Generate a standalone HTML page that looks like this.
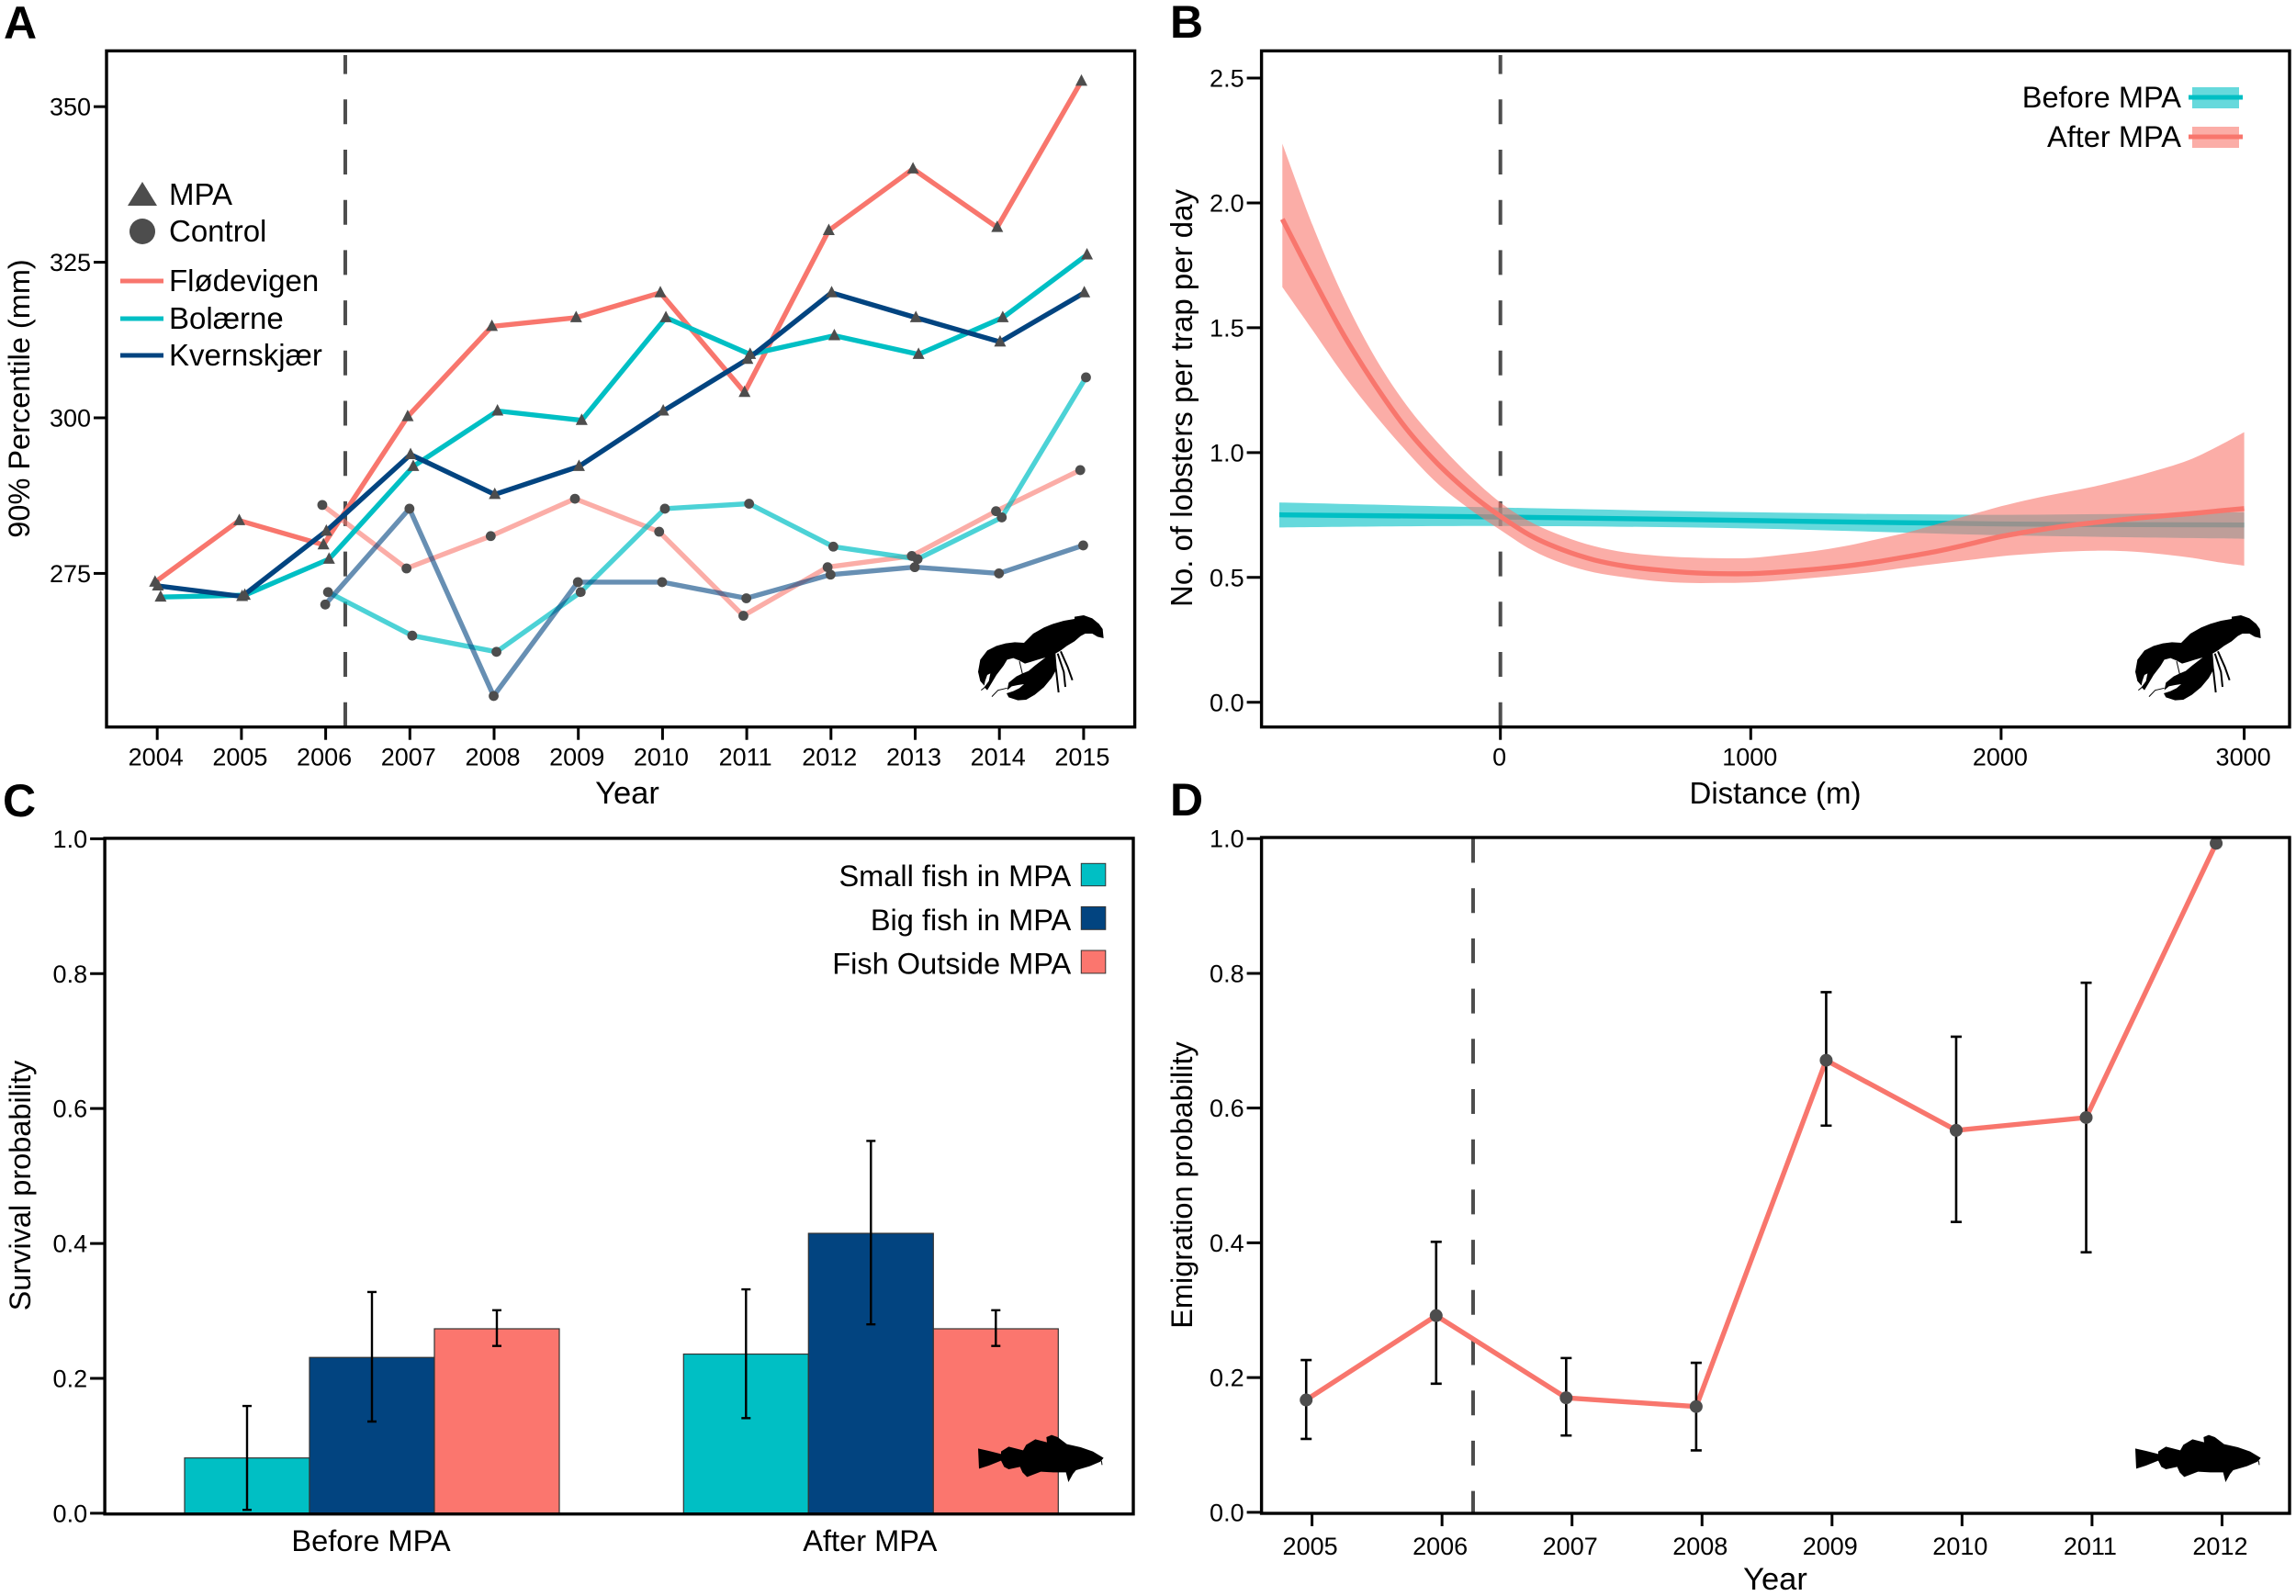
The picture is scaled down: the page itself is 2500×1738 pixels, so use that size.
<!DOCTYPE html>
<html lang="en">
<head>
<meta charset="utf-8">
<title>MPA lobster and fish panels</title>
<style>
html,body{margin:0;padding:0;background:#fff;}
svg{display:block;font-family:"Liberation Sans",Arial,sans-serif;fill:#000;}
.tick{font-size:27px;}
.title{font-size:32.5px;}
.leg{font-size:32.6px;}
.panel{font-size:50px;font-weight:bold;}
</style>
</head>
<body>
<svg id="fig" xmlns="http://www.w3.org/2000/svg" width="2500" height="1738" viewBox="0 0 2500 1738">
<defs>
<g id="lobster-shape">
<path fill="#000" d="M420 95L450 90L478 100L500 118L512 135L515 165L495 160L478 150L455 150L440 158L420 175L395 190L375 205L358 215L362 265L345 295L320 325L290 350L262 366L235 368L205 358L198 345L220 338L240 328L255 315L235 318L215 322L200 335L205 310L230 290L250 280L270 272L290 255L325 228L300 235L275 243L258 248L240 238L220 230L200 235L188 255L165 285L150 310L135 335L125 325L140 305L145 280L135 285L128 305L125 320L112 305L105 275L112 235L135 205L165 190L195 182L225 178L255 180L285 150L320 130L350 118L385 108L420 102Z"/>
<path fill="none" stroke="#000" stroke-width="6" d="M350 218L360 270L368 342M365 215L385 275L390 324M375 208L398 260L413 302"/>
<path fill="none" stroke="#000" stroke-width="3" d="M115 335L140 315M150 356L170 335L200 328M240 240L250 282"/>
</g>
<g id="fish-shape">
<path fill="#000" d="M75 112L110 120L150 130L150 122L175 106L222 118L232 100L262 82L300 92L298 75L315 68L335 75L365 98L410 108L450 122L485 143L475 155L440 170L395 183L385 195L370 222L362 190L320 190L280 188L235 205L220 190L212 172L175 180L160 172L150 152L110 168L78 178Z"/>
<path fill="none" stroke="#000" stroke-width="3" d="M478 152L480 166"/>
</g>
</defs>

<g id="panelA"></g>
<g id="panelB"></g>
<g id="panelC"></g>
<g id="panelD"></g>

<text class="panel" x="4" y="42">A</text>
<text class="panel" x="1274" y="41">B</text>
<text class="panel" x="3" y="889">C</text>
<text class="panel" x="1274" y="888">D</text>

<text class="title" style="font-size:34.5px" x="683" y="875" text-anchor="middle">Year</text>
<text class="title" transform="rotate(-90 32 434)" x="32" y="434" text-anchor="middle">90% Percentile (mm)</text>
<text class="title" style="font-size:33px" x="1933" y="875" text-anchor="middle">Distance (m)</text>
<text class="title" style="font-size:33px" transform="rotate(-90 1298 433.5)" x="1298" y="433.5" text-anchor="middle">No. of lobsters per trap per day</text>
<text class="title" transform="rotate(-90 33 1291)" x="33" y="1291" text-anchor="middle">Survival probability</text>
<text class="title" style="font-size:34.5px" x="1933" y="1731" text-anchor="middle">Year</text>
<text class="title" transform="rotate(-90 1298 1290.5)" x="1298" y="1290.5" text-anchor="middle">Emigration probability</text>

<g>
<polygon points="155,198 139,224 171,224" fill="#4d4d4d"/>
<text x="184" y="223" style="font-size:33px">MPA</text>
<circle cx="155" cy="252" r="14" fill="#4d4d4d"/>
<text x="184" y="263" style="font-size:33px">Control</text>
<line x1="131" x2="178" y1="306" y2="306" stroke="#F8766D" stroke-width="5"/>
<text x="184" y="317" style="font-size:33px">Flødevigen</text>
<line x1="131" x2="178" y1="347" y2="347" stroke="#00BFC4" stroke-width="5"/>
<text x="184" y="358" style="font-size:33px">Bolærne</text>
<line x1="131" x2="178" y1="387" y2="387" stroke="#024480" stroke-width="5"/>
<text x="184" y="398" style="font-size:33px">Kvernskjær</text>
</g>

<g>
<text class="leg" x="2375" y="117" text-anchor="end">Before MPA</text>
<rect x="2387" y="95" width="51" height="23" fill="#00BFC4" fill-opacity="0.6"/>
<line x1="2383" x2="2442" y1="106" y2="106" stroke="#00BFC4" stroke-width="5"/>
<text class="leg" x="2375" y="160" text-anchor="end">After MPA</text>
<rect x="2387" y="138" width="51" height="23" fill="#F8766D" fill-opacity="0.6"/>
<line x1="2383" x2="2442" y1="149" y2="149" stroke="#F8766D" stroke-width="5"/>
</g>

<g>
<text class="leg" x="1166.3" y="965.2" text-anchor="end">Small fish in MPA</text>
<rect x="1177.3" y="940.3" width="26.5" height="24.4" fill="#00BFC4" stroke="#333" stroke-width="1"/>
<text class="leg" x="1166.3" y="1012.9" text-anchor="end">Big fish in MPA</text>
<rect x="1177.3" y="987.4" width="26.5" height="24.9" fill="#024480" stroke="#333" stroke-width="1"/>
<text class="leg" x="1166.3" y="1060.5" text-anchor="end">Fish Outside MPA</text>
<rect x="1177.3" y="1035" width="26.5" height="24.9" fill="#FB766E" stroke="#333" stroke-width="1"/>
</g>

<use href="#lobster-shape" transform="translate(1030 640) scale(0.3333)"/>
<use href="#lobster-shape" transform="translate(2290 640) scale(0.3333)"/>
<use href="#fish-shape" transform="translate(1040 1540) scale(0.3333)"/>
<use href="#fish-shape" transform="translate(2300 1540) scale(0.3333)"/>
</svg>

<script>
/* ---------- Panel A data ---------- */
const aYears = [2004,2005,2006,2007,2008,2009,2010,2011,2012,2013,2014,2015];
const aControlYears = [2006,2007,2008,2009,2010,2011,2012,2013,2014,2015];
const aYTicks = [275,300,325,350];
const floMpa = [273.6,283.5,279.6,300.2,314.7,316.1,320.1,304.1,330.1,340,330.6,354.1];
const bolMpa = [271.2,271.5,277.3,292.2,301.1,299.6,316.1,310.2,313.2,310.2,316.1,326.2];
const kveMpa = [273,271.3,281.8,294.1,287.7,292.2,301.1,309.4,320.1,316.1,312.2,320.1];
const floControl = [286,275.8,281,287,281.7,268.2,276,277.8,285,291.6];
const bolControl = [272,265,262.4,272,285.4,286.2,279.3,277.3,284,306.5];
const kveControl = [270,285.4,255.3,273.6,273.6,271,274.8,276,275,279.5];
const aMpaStartYear = 2006.233;

/* ---------- Panel B data ---------- */
const bXTicks = [0,1000,2000,2971];
const bXTickLabels = ['0','1000','2000','3000'];
const bYTicks = [0,0.5,1,1.5,2,2.5];
const afterDistance = [-871,-750,-625,-500,-375,-250,-125,0,125,250,375,500,625,750,875,1000,1125,1250,1375,1500,1625,1750,1875,2000,2125,2250,2375,2500,2625,2750,2875,2971];
const afterFit = [1.935,1.70,1.47,1.27,1.095,0.955,0.84,0.745,0.665,0.61,0.57,0.545,0.53,0.52,0.515,0.515,0.522,0.532,0.545,0.562,0.583,0.606,0.634,0.664,0.686,0.705,0.72,0.733,0.745,0.755,0.767,0.776];
const afterUpper = [2.237,1.91,1.62,1.38,1.19,1.04,0.91,0.80,0.72,0.665,0.625,0.60,0.587,0.58,0.577,0.578,0.59,0.605,0.625,0.652,0.68,0.715,0.75,0.785,0.815,0.84,0.865,0.895,0.93,0.97,1.03,1.082];
const afterLower = [1.663,1.49,1.31,1.15,1.005,0.875,0.775,0.69,0.61,0.555,0.52,0.50,0.485,0.478,0.478,0.48,0.488,0.498,0.51,0.523,0.54,0.555,0.57,0.585,0.595,0.603,0.607,0.605,0.595,0.58,0.56,0.547];
const beforeDistance = [-883,0,1000,2000,2971];
const beforeFit = [0.751,0.742,0.728,0.714,0.71];
const beforeUpper = [0.8,0.78,0.761,0.751,0.761];
const beforeLower = [0.7,0.706,0.696,0.669,0.655];

/* ---------- Panel C data ---------- */
const cGroups = ['Before MPA','After MPA'];
const cSeries = ['small-fish','big-fish','outside-fish'];
const cTicks = [0,0.2,0.4,0.6,0.8,1];
const cBefore = [0.082,0.231,0.2735];
const cAfter = [0.236,0.415,0.2735];
const cBeforeHigh = [0.159,0.328,0.301];
const cBeforeLow = [0.005,0.136,0.248];
const cAfterHigh = [0.332,0.552,0.301];
const cAfterLow = [0.141,0.28,0.248];

/* ---------- Panel D data ---------- */
const dYears = [2005,2006,2007,2008,2009,2010,2011,2012];
const dTicks = [0,0.2,0.4,0.6,0.8,1];
const dValues = [0.1668,0.292,0.17,0.157,0.671,0.567,0.586,0.993];
const dHigh = [0.226,0.4015,0.229,0.222,0.772,0.706,0.786];
const dLow = [0.109,0.191,0.114,0.092,0.574,0.431,0.386];
const dMpaStartYear = 2006.239;

/* ---------- axis functions ---------- */
const xA = y => 171.2 + (y - 2004) * 91.7;
const yA = v => 455 - (v - 300) * 6.777;
const xB = m => 1633.7 + m * 0.2726;
const yB = v => 764.75 - v * 271.9;
const xC = (g, i) => 405 + g * 543.3 + (i - 1.5) * 136;
const yC = v => 1647.9 - v * 734.55;
const xD = y => 1428.6 + (y - 2005) * 141.55;
const yD = v => 1646.9 - v * 733.7;

const NS = 'http://www.w3.org/2000/svg';
const COL = {flo:'#F8766D', bol:'#00BFC4', kve:'#024480', bar3:'#FB766E', mark:'#4d4d4d', dash:'#4d4d4d'};

function mk(tag, attrs, parent, text) {
  const n = document.createElementNS(NS, tag);
  for (const k in attrs) n.setAttribute(k, attrs[k]);
  if (text !== undefined) n.textContent = text;
  parent.appendChild(n);
  return n;
}
function crSegments(p) {
  let d = '';
  for (let i = 0; i < p.length - 1; i++) {
    const p0 = p[Math.max(i - 1, 0)], p1 = p[i], p2 = p[i + 1], p3 = p[Math.min(i + 2, p.length - 1)];
    const c1x = p1[0] + (p2[0] - p0[0]) / 6, c1y = p1[1] + (p2[1] - p0[1]) / 6;
    const c2x = p2[0] - (p3[0] - p1[0]) / 6, c2y = p2[1] - (p3[1] - p1[1]) / 6;
    d += 'C' + c1x.toFixed(1) + ' ' + c1y.toFixed(1) + ' ' + c2x.toFixed(1) + ' ' + c2y.toFixed(1) + ' ' + p2[0].toFixed(1) + ' ' + p2[1].toFixed(1);
  }
  return d;
}
function smoothLine(p) { return 'M' + p[0][0].toFixed(1) + ' ' + p[0][1].toFixed(1) + crSegments(p); }
function smoothBand(up, lo) {
  const r = lo.slice().reverse();
  return smoothLine(up) + 'L' + r[0][0].toFixed(1) + ' ' + r[0][1].toFixed(1) + crSegments(r) + 'Z';
}
function xTicks(g, prefix, values, labels, xf, bottom, labelY, labelDx) {
  values.forEach(function (v, i) {
    const t = mk('line', {x1:xf(v), x2:xf(v), y1:bottom, y2:bottom + 14, stroke:'#000', 'stroke-width':3}, g);
    
    
    const l = mk('text', {class:'tick', x:xf(v) + labelDx, y:labelY, 'text-anchor':'middle'}, g, labels[i]);
    
    
  });
}
function yTicks(g, prefix, values, labels, yf, left, len) {
  values.forEach(function (v, i) {
    const t = mk('line', {x1:left - len, x2:left, y1:yf(v), y2:yf(v), stroke:'#000', 'stroke-width':3}, g);
    
    
    const l = mk('text', {class:'tick', x:left - len - 3, y:yf(v) + 9.5, 'text-anchor':'end'}, g, labels[i]);
    
    
  });
}
function frame(g, prefix, x, y, w, h) {
  const f = mk('rect', {x:x, y:y, width:w, height:h, fill:'none', stroke:'#000', 'stroke-width':3.4}, g);
  
  
}
function dashed(g, prefix, x, yStart, yEnd) {
  const l = mk('line', {x1:x, x2:x, y1:yStart, y2:yEnd, stroke:COL.dash, 'stroke-width':4, 'stroke-dasharray':'27 27.7'}, g);
  
  
}

/* ---------- Panel A ---------- */
(function () {
  const g = document.getElementById('panelA');
  dashed(g, 'panel-a', xA(aMpaStartYear), 791.7, 60);
  const series = [
    {name:'flodevigen-control', years:aControlYears, vals:floControl, dodge:-0.04, col:COL.flo, op:0.6, tri:false},
    {name:'bolaerne-control', years:aControlYears, vals:bolControl, dodge:0.028, col:COL.bol, op:0.7, tri:false},
    {name:'kvernskjaer-control', years:aControlYears, vals:kveControl, dodge:-0.005, col:COL.kve, op:0.6, tri:false},
    {name:'flodevigen-mpa', years:aYears, vals:floMpa, dodge:-0.026, col:COL.flo, op:1, tri:true},
    {name:'bolaerne-mpa', years:aYears, vals:bolMpa, dodge:0.04, col:COL.bol, op:1, tri:true},
    {name:'kvernskjaer-mpa', years:aYears, vals:kveMpa, dodge:0.008, col:COL.kve, op:1, tri:true}
  ];
  series.forEach(function (s) {
    const pts = s.vals.map(function (v, i) { return xA(s.years[i] + s.dodge).toFixed(1) + ',' + yA(v).toFixed(1); }).join(' ');
    const line = mk('polyline', {points:pts, fill:'none', stroke:s.col, 'stroke-width':5.4, 'stroke-opacity':s.op, 'stroke-linejoin':'round'}, g);
    
    
  });
  series.forEach(function (s) {
    s.vals.forEach(function (v, i) {
      const x = xA(s.years[i] + s.dodge), y = yA(v);
      let m;
      if (s.tri) {
        m = mk('polygon', {points:x + ',' + (y - 7.5) + ' ' + (x - 6.5) + ',' + (y + 5) + ' ' + (x + 6.5) + ',' + (y + 5), fill:COL.mark}, g);
      } else {
        m = mk('circle', {cx:x, cy:y, r:5.4, fill:COL.mark}, g);
      }
      
      
    });
  });
  xTicks(g, 'panel-a', aYears, aYears.map(String), xA, 791.7, 833.5, -1.5);
  yTicks(g, 'panel-a', aYTicks, aYTicks.map(String), yA, 116, 14);
  frame(g, 'panel-a', 116, 55.4, 1119.6, 736.3);
})();

/* ---------- Panel B ---------- */
(function () {
  const g = document.getElementById('panelB');
  dashed(g, 'panel-b', xB(0), 791.7, 60);
  const pts = (xs, ys) => xs.map(function (x, i) { return [xB(x), yB(ys[i])]; });
  const bb = mk('path', {d:smoothBand(pts(beforeDistance, beforeUpper), pts(beforeDistance, beforeLower)), fill:COL.bol, 'fill-opacity':0.6}, g);
  
  
  const bl = mk('path', {d:smoothLine(pts(beforeDistance, beforeFit)), fill:'none', stroke:COL.bol, 'stroke-width':5.4}, g);
  
  
  const ab = mk('path', {d:smoothBand(pts(afterDistance, afterUpper), pts(afterDistance, afterLower)), fill:COL.flo, 'fill-opacity':0.6}, g);
  
  
  const al = mk('path', {d:smoothLine(pts(afterDistance, afterFit)), fill:'none', stroke:COL.flo, 'stroke-width':5.4}, g);
  
  
  xTicks(g, 'panel-b', bXTicks, bXTickLabels, xB, 791.7, 833.5, -1);
  yTicks(g, 'panel-b', bYTicks, bYTicks.map(function (v) { return v.toFixed(1); }), yB, 1373.6, 16);
  frame(g, 'panel-b', 1373.6, 55.4, 1119.4, 736.3);
})();

/* ---------- Panel C ---------- */
(function () {
  const g = document.getElementById('panelC');
  const fills = [COL.bol, COL.kve, COL.bar3];
  [[cBefore, cBeforeHigh, cBeforeLow], [cAfter, cAfterHigh, cAfterLow]].forEach(function (grp, gi) {
    grp[0].forEach(function (v, i) {
      const b = mk('rect', {x:xC(gi, i), y:yC(v), width:136, height:yC(0) - yC(v), fill:fills[i], stroke:'#333', 'stroke-width':1.2}, g);
      
      
    });
    grp[0].forEach(function (v, i) {
      const cx = xC(gi, i) + 68;
      const d = 'M' + cx + ' ' + yC(grp[1][i]) + 'V' + yC(grp[2][i]) + 'M' + (cx - 5) + ' ' + yC(grp[1][i]) + 'H' + (cx + 5) + 'M' + (cx - 5) + ' ' + yC(grp[2][i]) + 'H' + (cx + 5);
      const e = mk('path', {d:d, fill:'none', stroke:'#000', 'stroke-width':2.4}, g);
      
      
    });
  });
  cGroups.forEach(function (name, gi) {
    const t = mk('text', {class:'leg', x:xC(gi, 1.5) - 1, y:1689, 'text-anchor':'middle'}, g, name);
    
    
  });
  yTicks(g, 'panel-c', cTicks, cTicks.map(function (v) { return v.toFixed(1); }), yC, 114.1, 16);
  frame(g, 'panel-c', 114.1, 912.9, 1119.9, 735.8);
})();

/* ---------- Panel D ---------- */
(function () {
  const g = document.getElementById('panelD');
  const dodge = -0.045;
  dashed(g, 'panel-d', xD(dMpaStartYear), 912.5, 1648);
  const pts = dValues.map(function (v, i) { return xD(dYears[i] + dodge).toFixed(1) + ',' + yD(v).toFixed(1); }).join(' ');
  const line = mk('polyline', {points:pts, fill:'none', stroke:COL.flo, 'stroke-width':5.4, 'stroke-linejoin':'round'}, g);
  
  
  dHigh.forEach(function (hi, i) {
    const cx = xD(dYears[i] + dodge);
    const d = 'M' + cx + ' ' + yD(hi) + 'V' + yD(dLow[i]) + 'M' + (cx - 6) + ' ' + yD(hi) + 'H' + (cx + 6) + 'M' + (cx - 6) + ' ' + yD(dLow[i]) + 'H' + (cx + 6);
    const e = mk('path', {d:d, fill:'none', stroke:'#000', 'stroke-width':2.6}, g);
    
    
  });
  dValues.forEach(function (v, i) {
    const c = mk('circle', {cx:xD(dYears[i] + dodge), cy:yD(v), r:7, fill:COL.mark}, g);
    
    
  });
  xTicks(g, 'panel-d', dYears, dYears.map(String), xD, 1648, 1693, -2);
  yTicks(g, 'panel-d', dTicks, dTicks.map(function (v) { return v.toFixed(1); }), yD, 1373.6, 16);
  frame(g, 'panel-d', 1373.6, 912, 1119.4, 736);
})();
</script>
</body>
</html>
